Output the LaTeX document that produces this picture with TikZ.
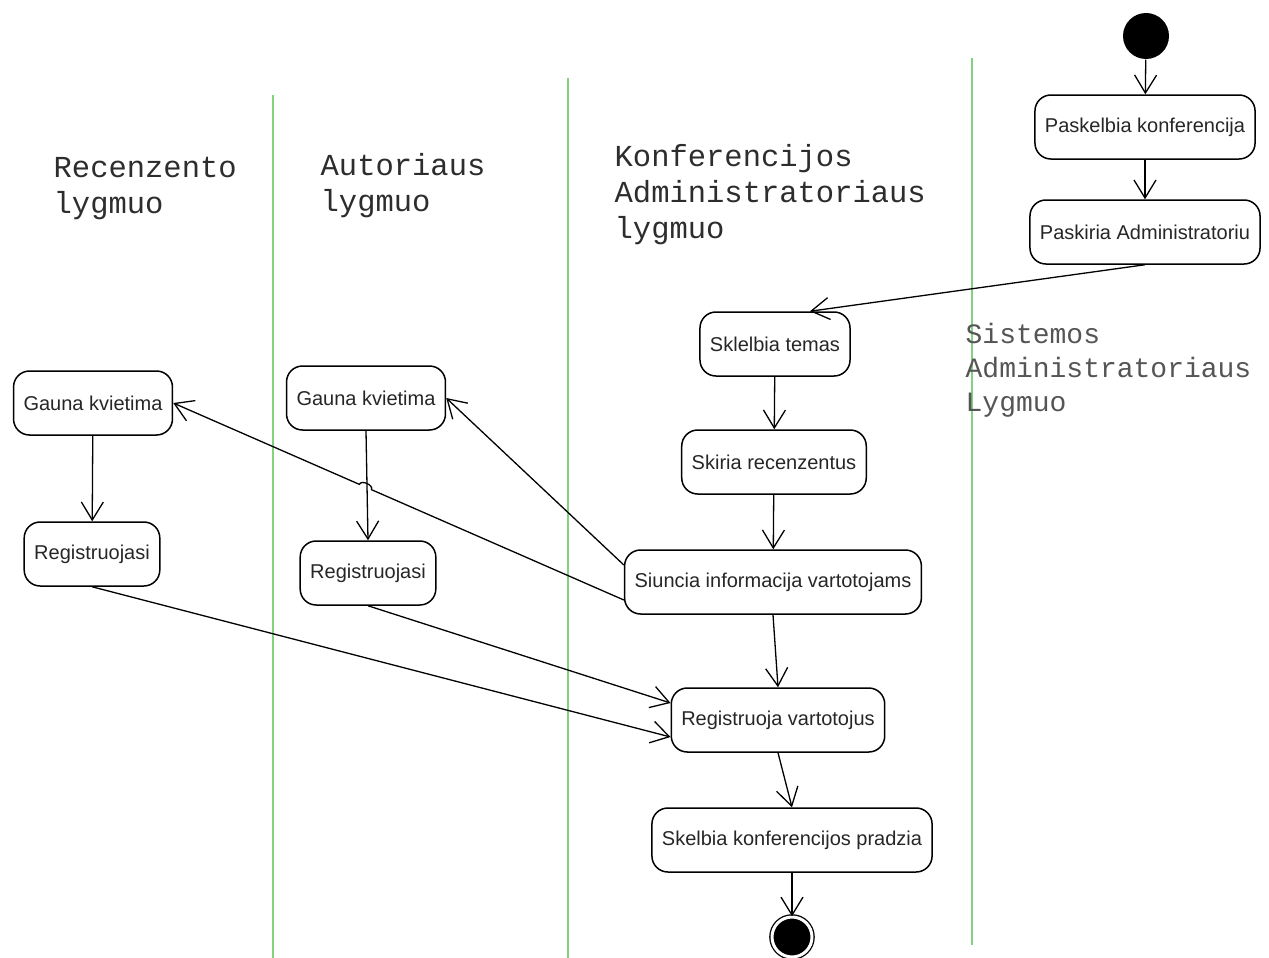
\documentclass[tikz,border=0pt]{standalone}
\usepackage{fontspec}
\setmainfont{Liberation Sans}
\newfontfamily\lanefont{Liberation Mono}
\usetikzlibrary{arrows.meta, calc}
\definecolor{lanegreen}{RGB}{130, 210, 130}
\definecolor{titlegray}{RGB}{45, 45, 45}
\definecolor{titlelight}{RGB}{85, 85, 85}

\begin{document}
\begin{tikzpicture}[x=1pt, y=-1pt, line width=1.3pt,
    >={Straight Barb[length=18pt, width=22pt, line width=1.3pt]},
    action/.style={draw, line width=1.5pt, rounded corners=16pt, minimum height=64pt,
      inner xsep=10pt, font=\fontsize{20}{24}\selectfont, text=black!85},
    lanetitle/.style={align=left, inner sep=0pt, anchor=base west, text=titlegray,
      font=\lanefont\fontsize{30.5}{36}\selectfont},
    lane/.style={draw=lanegreen, line width=1.2pt},
    flow/.style={->, line width=1.3pt}]
  \useasboundingbox (0,0) rectangle (1269,958);
  % swimlanes
  \draw[lane] (273,95) -- (273,958);
  \draw[lane] (568,78) -- (568,958);
  \draw[lane] (972,58) -- (972,945);
  % lane titles (anchored on the last line)
  \node[lanetitle] (trec) at (53,213) {Recenzento\\lygmuo};
  \node[lanetitle] (taut) at (320,211) {Autoriaus\\lygmuo};
  \node[lanetitle] (tkonf) at (614,238) {Konferencijos\\Administratoriaus\\lygmuo};
  \node[lanetitle, text=titlelight, font=\lanefont\fontsize{28}{34}\selectfont]
    (tsis) at (965,411) {Sistemos\\Administratoriaus\\Lygmuo};
  % start and end
  \node[circle, fill=black, minimum size=46pt, inner sep=0pt] (start) at (1146,36) {};
  \node[circle, draw, fill=black, minimum size=40pt, inner sep=0pt,
        double, double distance=3pt, line width=1.3pt] (stop) at (792,937) {};
  % Sistemos administratorius
  \node[action] (pk) at (1145,127) {Paskelbia konferencija};
  \node[action] (pa) at (1145,232) {Paskiria Administratoriu};
  % Konferencijos administratorius
  \node[action] (st) at (775,344) {Sklelbia temas};
  \node[action] (sr) at (774,462) {Skiria recenzentus};
  \node[action] (si) at (773,582) {Siuncia informacija vartotojams};
  \node[action] (rv) at (778,720) {Registruoja vartotojus};
  \node[action] (sp) at (792,840) {Skelbia konferencijos pradzia};
  % Recenzentas
  \node[action] (gk1) at (93,403) {Gauna kvietima};
  \node[action] (rg1) at (92,554) {Registruojasi};
  % Autorius
  \node[action] (gk2) at (366,398) {Gauna kvietima};
  \node[action] (rg2) at (368,573) {Registruojasi};
  % flows
  \draw[flow] (start) -- (pk);
  \draw[flow] (pk) -- (pa);
  \draw[flow] (pa.south) -- ($(st.north)+(35,0)$);
  \draw[flow] (st) -- (sr);
  \draw[flow] (sr) -- (si);
  \draw[flow] (si.south) -- (rv.north);
  \draw[flow] (rv.south) -- (sp.north);
  \draw[flow] (sp) -- (stop);
  \draw[flow] (gk1) -- (rg1);
  \draw[flow] (gk2.south) -- (rg2.north);
  \coordinate (out1) at ($(si.west)+(0,18)$);
  \draw[flow] (out1) -- ($(out1)!0.56!(gk1.east)$)
    to[bend right=90] ($(out1)!0.587!(gk1.east)$) -- (gk1.east);
  \draw[flow] ($(si.west)+(0,-17)$) -- (gk2.east);
  \draw[flow] (rg1.south) -- ($(rv.west)+(0,17)$);
  \draw[flow] (rg2.south) -- ($(rv.west)+(0,-17)$);
\end{tikzpicture}
\end{document}
